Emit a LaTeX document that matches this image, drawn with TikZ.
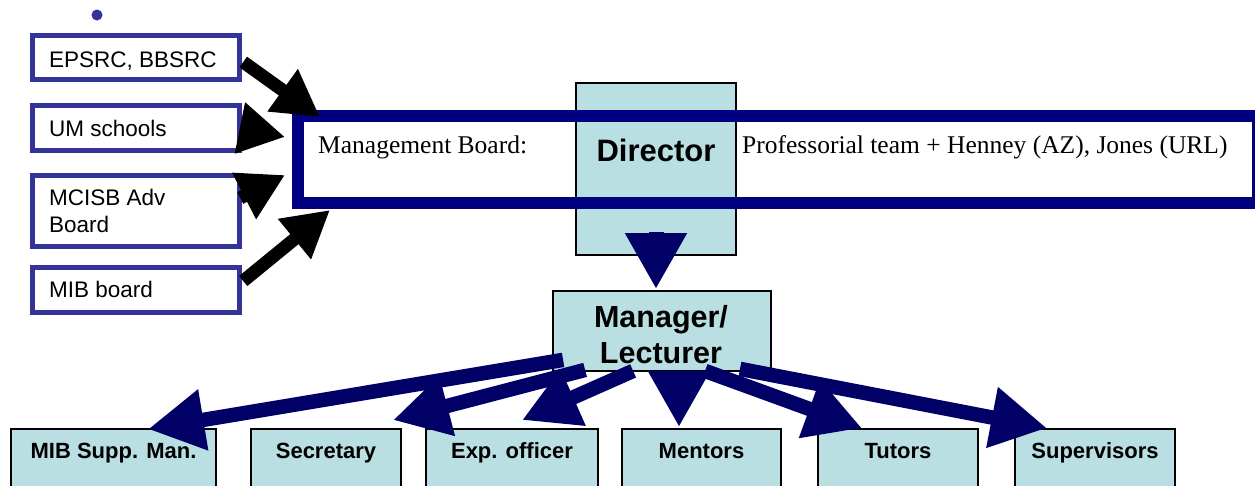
\documentclass[tikz,border=0pt]{standalone}
\usepackage{fontspec}
\setmainfont{Liberation Serif}
\setsansfont{Liberation Sans}
\usetikzlibrary{arrows.meta,calc}
\definecolor{lbox}{HTML}{333399}
\definecolor{boardc}{HTML}{000080}
\definecolor{arrc}{HTML}{000066}
\definecolor{fillc}{HTML}{B9DFE3}
\tikzset{
  leftbox/.style={draw=lbox, line width=5.5pt, fill=white, inner sep=0pt, minimum width=207pt},
  lefttext/.style={anchor=base west, inner sep=0pt, align=left, font=\sffamily\fontsize{22.5}{27}\selectfont},
  bluebox/.style={draw=black, line width=1.8pt, fill=fillc, inner sep=0pt},
  bottombox/.style={bluebox, text height=29pt, text depth=70pt,
    font=\sffamily\bfseries\fontsize{22}{26}\selectfont, anchor=base},
  blackarrow/.style={line width=13pt, black, -{Triangle[length=46pt,width=49pt]}},
  navyarrow/.style={line width=14.5pt, arrc, -{Triangle[length=56pt,width=58pt]}},
  dirarrow/.style={line width=15pt, arrc, -{Triangle[length=56pt,width=58pt]}},
  serift/.style={anchor=base west, inner sep=0pt, font=\fontsize{25.5}{30}\selectfont},
}
\begin{document}
\begin{tikzpicture}[x=1pt,y=-1pt]
\useasboundingbox (0,0) rectangle (1255,485);
\clip (0,0) rectangle (1255,485);

% bullet
\node[circle, fill=lbox, minimum size=11pt, inner sep=0pt] (dot) at (97,15) {};

% left boxes
\node[leftbox, minimum height=44pt] (epsrc) at (136,57.5) {};
\node[leftbox, minimum height=45pt] (um) at (136,128) {};
\node[leftbox, minimum height=71pt] (mcisb) at (136,211) {};
\node[leftbox, minimum height=45pt] (mibb) at (136,290) {};
\node[lefttext] (epsrct) at (49,67) {EPSRC, BBSRC};
\node[lefttext] (umt) at (49,136) {UM schools};
\node[lefttext] (mcisbt) at (49,232) {MCISB Adv\\Board};
\node[lefttext] (mibbt) at (49,297) {MIB board};

% management board
\node[fill=white, minimum width=960pt, minimum height=87pt, inner sep=0pt, outer sep=0pt] (board) at (778,159.5) {};
\node[bluebox, minimum width=160pt, minimum height=172pt] (dir) at (656,169) {};
\draw[boardc, line width=12pt] (board.north west) rectangle (board.south east);
\node[serift] (mbt) at (318,153) {Management Board:};
\node[serift] (proft) at (742,153) {Professorial team + Henney (AZ), Jones (URL)};
\node[font=\sffamily\bfseries\fontsize{31}{36}\selectfont, inner sep=0pt, anchor=base] (dirt) at (656,161) {Director};

% manager
\node[bluebox, minimum width=218pt, minimum height=80pt] (mgr) at (662,331) {};
\node[font=\sffamily\bfseries\fontsize{30.5}{36}\selectfont, inner sep=0pt, align=center, anchor=base] (mgrt) at (661,363) {Manager/\\Lecturer};

% bottom boxes
\node[bottombox, minimum width=205pt] (mib) at (113.5,458) {MIB Supp. Man.};
\node[bottombox, minimum width=150pt] (sec) at (326,458) {Secretary};
\node[bottombox, minimum width=172pt] (exp) at (512,458) {Exp. officer};
\node[bottombox, minimum width=159pt] (ment) at (701.5,458) {Mentors};
\node[bottombox, minimum width=160pt] (tut) at (898,458) {Tutors};
\node[bottombox, minimum width=160pt] (sup) at (1095,458) {Supervisors};

% black arrows into the board
\draw[blackarrow] ($(epsrc.east)+(1,4.5)$) -- ($(board.north west)+(22,1)$);
\draw[blackarrow] ($(um.east)+(-2,0)$) -- ($(board.west)+(-13,-22.5)$);
\draw[blackarrow] ($(mcisb.east)+(-2,-13)$) -- ($(board.west)+(-13,15.5)$);
\draw[blackarrow] ($(mibb.east)+(1,-9)$) -- ($(board.south west)+(32,7)$);

% director to manager
\draw[dirarrow] ($(dir.south)+(0,-23.5)$) -- ($(mgr.north)+(-6,-1)$);

% manager to staff
\draw[navyarrow] ($(mgr.south west)+(11,-12)$) -- ($(mib.north)+(34.5,1)$);
\draw[navyarrow] ($(mgr.south west)+(33,-2)$) -- ($(sec.north)+(67,-8)$);
\draw[navyarrow] ($(mgr.south west)+(81,-1)$) -- ($(exp.north)+(10,-8)$);
\draw[navyarrow] ($(mgr.south)+(17,0)$) -- ($(ment.north)+(-22.5,-1)$);
\draw[navyarrow] ($(mgr.south)+(43,-1)$) -- ($(tut.north)+(-36,0)$);
\draw[navyarrow] ($(mgr.south)+(78,-3)$) -- ($(sup.north)+(-48,0)$);
\end{tikzpicture}
\end{document}
